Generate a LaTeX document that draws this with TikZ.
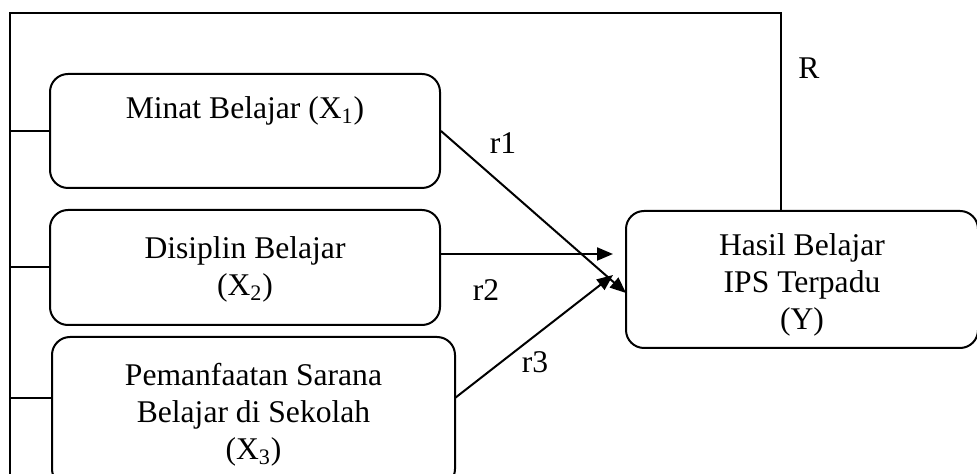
\documentclass[tikz,border=0pt]{standalone}
\usepackage{fontspec}
\setmainfont{Liberation Serif}
\usetikzlibrary{arrows.meta}
\newcommand{\boxtext}[2]{\raisebox{-#1}[\height][\depth]{\begin{tabular}{@{}c@{}}#2\end{tabular}}}
\begin{document}
\begin{tikzpicture}[x=0.5pt,y=-0.5pt,
  every node/.style={font=\fontsize{15.8pt}{18.5pt}\selectfont},
  boxnode/.style={draw,line width=1pt,rounded corners=9pt,align=center,inner sep=0pt},
  conn/.style={line width=1pt},
  arr/.style={line width=1pt,-{Triangle[length=8pt,width=6.5pt]}},
  lbl/.style={inner sep=0pt}
]
\useasboundingbox (0,0) rectangle (977,474);
\node[boxnode,minimum width=195pt,minimum height=57pt] (b1) at (245,131)
  {\boxtext{-0.5pt}{Minat Belajar (X\textsubscript{1})\\ \mbox{}}};
\node[boxnode,minimum width=195pt,minimum height=57.5pt] (b2) at (245,267.5)
  {\boxtext{1pt}{Disiplin Belajar\\(X\textsubscript{2})}};
\node[boxnode,minimum width=201.5pt,minimum height=75pt] (b3) at (253.5,412)
  {\boxtext{1.5pt}{Pemanfaatan Sarana\\Belajar di Sekolah\\(X\textsubscript{3})}};
\node[boxnode,minimum width=176pt,minimum height=68.5pt] (y) at (802,279.5)
  {\boxtext{3pt}{Hasil Belajar\\IPS Terpadu\\(Y)}};
% outer frame
\coordinate (fl) at (10,13);
\coordinate (fr) at (781,13);
\coordinate (fb) at (10,480);
\draw[conn] (fb) -- (fl) -- (fr) -- (fr |- y.north);
\draw[conn] (fl |- b1.west) -- (b1.west);
\draw[conn] (fl |- b2.west) -- (b2.west);
\coordinate (f3) at (10,398);
\draw[conn] (f3) -- (f3 -| b3.west);
% arrows
\coordinate (t1) at (626,293);
\coordinate (t2) at (613,254);
\coordinate (t3) at (613,275);
\coordinate (s3) at (455,398);
\draw[arr] (b1.east) -- (t1);
\draw[arr] (b2.east |- t2) -- (t2);
\draw[arr] (s3) -- (t3);
% labels
\node[lbl] (r1) at (503,143) {r1};
\node[lbl] (r2) at (486,290) {r2};
\node[lbl] (r3) at (535,362) {r3};
\node[lbl] (R) at (809,68) {R};
\end{tikzpicture}
\end{document}
